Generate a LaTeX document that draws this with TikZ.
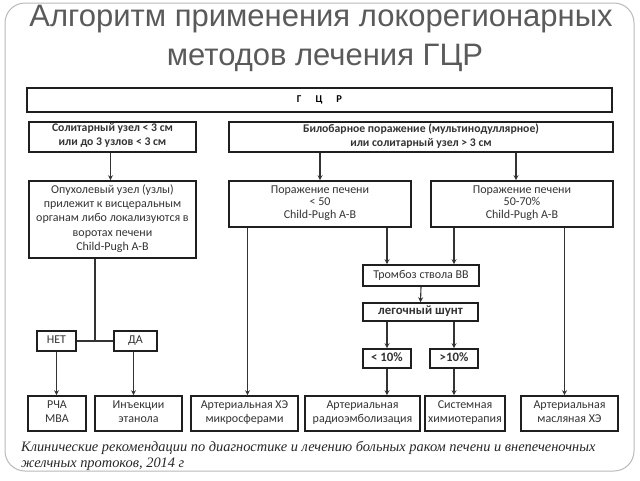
\documentclass[tikz,border=0pt]{standalone}
\usepackage{fontspec}
\setmainfont{Carlito}
\newfontfamily\titlefont{Liberation Sans}
\newfontfamily\capfont{Liberation Serif}
\usetikzlibrary{arrows.meta}
\definecolor{txt}{HTML}{333333}
\definecolor{ttl}{HTML}{5A5A5A}
\begin{document}
\begin{tikzpicture}[x=1pt,y=-1pt,
  box/.style={draw=black!88, line width=1.6pt, inner sep=0pt, align=center, text=txt,
     font=\fontsize{12}{14.3}\selectfont, execute at begin node=\strut, execute at end node=\strut},
  bbox/.style={box, font=\fontsize{11.7}{14}\selectfont\bfseries},
  sbox/.style={box, font=\fontsize{12.8}{14}\selectfont\bfseries},
  arr/.style={draw=black!80, line width=1.1pt, -{Stealth[length=5pt,width=5pt]}},
  ln/.style={draw=black!80, line width=1.1pt}]
\useasboundingbox (0,0) rectangle (640,480);
\draw[gray!55, line width=1pt, rounded corners=20pt] (5,3) rectangle (634,471);
% title
\node[text=ttl, font=\fontsize{31}{36}\selectfont\titlefont] (t1) at (321,19) {Алгоритм применения локорегионарных};
\node[text=ttl, font=\fontsize{31}{36}\selectfont\titlefont] (t2) at (325,58) {методов лечения ГЦР};
% boxes
\node[box, minimum width=585, minimum height=24, font=\fontsize{10.5}{14}\selectfont\bfseries, text=black] (gcr) at (319.5,100) {Г\hspace{14pt}Ц\hspace{14pt}Р};
\node[bbox, minimum width=167, minimum height=30] (sol) at (112.5,137) {Солитарный узел < 3 см\\или до 3 узлов < 3 см};
\node[bbox, minimum width=384, minimum height=30] (bil) at (421,137) {Билобарное поражение (мультинодуллярное)\\или солитарный узел > 3 см};
\node[box, minimum width=167, minimum height=77] (opu) at (112.5,219.5) {Опухолевый узел (узлы)\\прилежит к висцеральным\\органам либо локализуются в\\воротах печени\\Child-Pugh A-B};
\node[box, minimum width=182, minimum height=46, font=\fontsize{12}{12.8}\selectfont] (p50) at (320,204) {Поражение печени\\< 50\\Child-Pugh A-B};
\node[box, minimum width=182, minimum height=46, font=\fontsize{12}{12.8}\selectfont] (p70) at (522,204) {Поражение печени\\50-70\%\\Child-Pugh A-B};
\node[box, minimum width=116, minimum height=21] (tromb) at (421,275.5) {Тромбоз ствола ВВ};
\node[sbox, minimum width=115, minimum height=18] (shunt) at (420.5,312) {легочный шунт};
\node[sbox, minimum width=48, minimum height=19] (lt10) at (387,358.5) {< 10\%};
\node[sbox, minimum width=48, minimum height=19] (gt10) at (454,358.5) {>10\%};
\node[box, minimum width=39, minimum height=20] (net) at (56.5,341) {НЕТ};
\node[box, minimum width=43, minimum height=20] (da) at (135.5,341) {ДА};
\node[box, minimum width=58, minimum height=35] (rfa) at (57,413.5) {РЧА\\МВА};
\node[box, minimum width=87, minimum height=35] (inj) at (138.5,413.5) {Инъекции\\этанола};
\node[box, minimum width=107, minimum height=35] (ahe) at (244.5,413.5) {Артериальная ХЭ\\микросферами};
\node[box, minimum width=115, minimum height=35] (rad) at (362.5,413.5) {Артериальная\\радиоэмболизация};
\node[box, minimum width=80, minimum height=35] (sys) at (465,413.5) {Системная\\химиотерапия};
\node[box, minimum width=97, minimum height=35] (oil) at (569.5,413.5) {Артериальная\\масляная ХЭ};
\coordinate (j) at (95,341);
% connectors
\draw[arr] ([xshift=-2]sol.south) -- ([xshift=-2]opu.north);
\draw[arr] (bil.south -| p50.north) -- (p50.north);
\draw[arr] ([xshift=-6]bil.south -| p70.north) -- ([xshift=-6]p70.north);
\draw[arr] ([xshift=3]p50.south -| ahe.north) -- ([xshift=3]ahe.north);
\draw[arr] (p50.south -| lt10.north) -- (tromb.north -| lt10.north);
\draw[arr] (p70.south -| gt10.north) -- (tromb.north -| gt10.north);
\draw[arr] ([xshift=-5]p70.south -| oil.north) -- ([xshift=-5]oil.north);
\draw[arr] (tromb.south) -- (shunt.north);
\draw[arr] (shunt.south -| lt10.north) -- (lt10.north);
\draw[arr] (shunt.south -| gt10.north) -- (gt10.north);
\draw[arr] (lt10.south) -- (lt10.south |- rad.north);
\draw[arr] (gt10.south) -- (gt10.south |- sys.north);
\draw[ln] (opu.south -| j) -- (j);
\draw[ln] (net.east) -- (da.west);
\draw[arr] (net.south) -- (net.south |- rfa.north);
\draw[arr] ([xshift=-2]da.south) -- ([xshift=-2]da.south |- inj.north);
% caption
\node[anchor=base west, inner sep=0pt, text=black!85, font=\fontsize{14.4}{18}\selectfont\capfont\itshape] (c1) at (21,451) {Клинические рекомендации по диагностике и лечению больных раком печени и внепеченочных};
\node[anchor=base west, inner sep=0pt, text=black!85, font=\fontsize{14.4}{18}\selectfont\capfont\itshape] (c2) at (21,467) {желчных протоков, 2014 г};
\end{tikzpicture}
\end{document}
